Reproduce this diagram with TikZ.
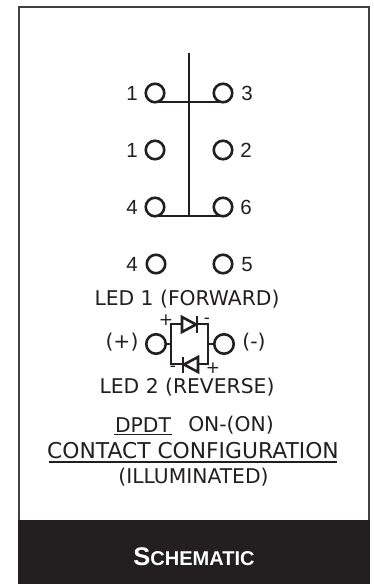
\documentclass[tikz,border=0pt]{standalone}
\usepackage{fontspec}
\setmainfont{Liberation Sans}
\newfontfamily\tah{DejaVu Sans}
\newfontfamily\ari{Liberation Sans}
\definecolor{ink}{HTML}{231F20}
\definecolor{frm}{HTML}{404040}
\tikzset{
 x=1pt,y=-1pt,
 term/.style={circle,draw=ink,line width=2.6pt,minimum size=18.5pt,inner sep=0pt,fill=white},
 num/.style={font=\ari\fontsize{20.5}{21}\selectfont,text=ink,inner sep=0pt},
 led/.style={font=\tah\fontsize{20.3}{21}\selectfont,text=ink,inner sep=0pt},
 captext/.style={font=\tah\fontsize{20.3}{21}\selectfont,text=ink,inner sep=0pt},
 sign/.style={font=\tah\fontsize{17}{17}\selectfont,text=ink,inner sep=0pt},
 wire/.style={draw=ink,line width=2.6pt},
 rulestroke/.style={draw=ink,line width=1.2pt},
 diode/.style={draw=ink,line width=2.6pt,fill=white,line join=miter},
}
\begin{document}
\begin{tikzpicture}
\useasboundingbox (0,0) rectangle (374,584);
\fill[white] (0,0) rectangle (374,584);
\draw[frm,line width=2pt] (19,584) -- (19,6.5) -- (369,6.5) -- (369,584);
\fill[ink] (18,520) rectangle (370,584);
\node[font=\bfseries\fontsize{25.5}{26}\selectfont,text=white,inner sep=0pt] (title) at (194,557) {S\fontsize{20}{26}\selectfont CHEMATIC};
% switch
\coordinate (top) at (189,53);
\coordinate (bar1) at (189,102);
\coordinate (bar2) at (189,216);
\coordinate (a1) at (155,102);
\coordinate (a2) at (223,102);
\coordinate (b1) at (155,216);
\coordinate (b2) at (223,216);
\draw[wire] (top) -- (bar2);
\draw[wire] (a1) -- (a2);
\draw[wire] (b1) -- (b2);
\node[term] (t1) at (155,93) {};
\node[term] (t2) at (223,93) {};
\node[term] (t3) at (155,150) {};
\node[term] (t4) at (223,150) {};
\node[term] (t5) at (155,207) {};
\node[term] (t6) at (223,207) {};
\node[term] (t7) at (156,264) {};
\node[term] (t8) at (223,264) {};
\node[num] (n1) at (132,93.5) {1};
\node[num] (n2) at (247,93.5) {3};
\node[num] (n3) at (132,150.5) {1};
\node[num] (n4) at (246,150.5) {2};
\node[num] (n5) at (132,207.5) {4};
\node[num] (n6) at (246,207.5) {6};
\node[num] (n7) at (132,264.5) {4};
\node[num] (n8) at (247,264.5) {5};
% LED
\node[led] (l1) at (187,299) {LED 1 (FORWARD)};
\node[led] (l2) at (187,387) {LED 2 (REVERSE)};
\node[term,minimum size=19.5pt] (pa) at (156,344) {};
\node[term,minimum size=19.5pt] (pb) at (224,344) {};
\coordinate (bl) at (171,344);
\coordinate (br) at (208,344);
\coordinate (tl) at (171,324);
\coordinate (tr) at (208,324);
\coordinate (dl) at (171,364);
\coordinate (dr) at (208,364);
\draw[wire,line join=miter] (tl) -- (tr) -- (dr) -- (dl) -- cycle;
\draw[wire] (pa) -- (bl);
\draw[wire] (pb) -- (br);
\draw[diode] (182,317) -- (182,332) -- (196,324.5) -- cycle;
\draw[wire] (197,316) -- (197,333);
\draw[diode] (198,357) -- (198,372) -- (184,364.5) -- cycle;
\draw[wire] (183,356.5) -- (183,372.5);
\node[sign] (s1) at (166,320) {+};
\node[sign] (s2) at (207,321) {-};
\node[sign] (s3) at (173,369) {-};
\node[sign] (s4) at (213,368) {+};
\node[led] (p1) at (122,342) {(+)};
\node[led] (p2) at (254,342) {(-)};
% caption
\node[captext] (c1) at (143,425) {DPDT};
\node[captext] (c2) at (231,425) {ON-(ON)};
\node[captext,font=\tah\fontsize{21.8}{22}\selectfont] (c3) at (193,451) {CONTACT CONFIGURATION};
\node[captext] (c4) at (193.5,477) {(ILLUMINATED)};
\coordinate (u1) at (114,434.5);
\coordinate (u2) at (172,434.5);
\coordinate (u3) at (49,462);
\coordinate (u4) at (337,462);
\draw[rulestroke] (u1) -- (u2);
\draw[rulestroke] (u3) -- (u4);
\end{tikzpicture}
\end{document}
